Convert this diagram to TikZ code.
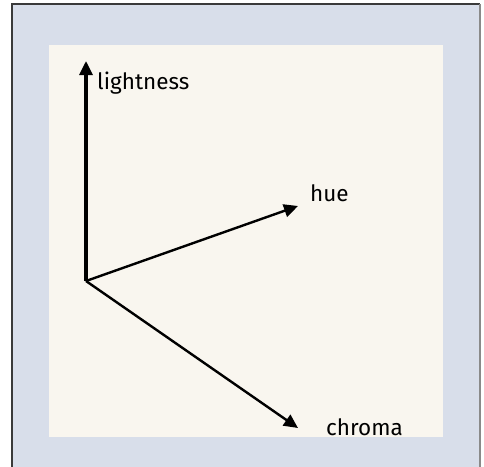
\documentclass[tikz,border=0pt]{standalone}
\usepackage{fontspec}
\setmainfont{Fira Sans}
\usetikzlibrary{arrows.meta}
\definecolor{panelblue}{HTML}{D8DEEA}
\definecolor{paper}{HTML}{F9F6EF}
\definecolor{edgedark}{HTML}{3A3A3A}
\definecolor{edgegray}{HTML}{8A8A8A}
\tikzset{
  axis/.style={line width=2.4pt,-{Triangle[length=14pt,width=13pt]}},
  axisup/.style={line width=3.2pt,-{Triangle[length=14pt,width=13pt]}},
  lbl/.style={font=\fontsize{22.5}{26}\selectfont,text=black,inner sep=0pt}
}
\begin{document}
\begin{tikzpicture}[x=1pt,y=-1pt]
\useasboundingbox (0,0) rectangle (484,466);
% outer panel and frame
\fill[panelblue] (12,4) rectangle (480,470);
\draw[edgedark,line width=1.5pt] (12,470) -- (12,4) -- (480,4);
\draw[edgegray,line width=1.5pt] (480,4) -- (480,470);
% inner sheet
\fill[paper] (49,45) rectangle (443,437);
% axes
\coordinate (o) at (86,281);
\coordinate (l) at (86,61);
\coordinate (h) at (298,206);
\coordinate (c) at (298,428);
\draw[axisup] (o) -- (l);
\draw[axis] (o) -- (h);
\draw[axis] (o) -- (c);
\node[lbl,anchor=west] (lt) at (97,83) {lightness};
\node[lbl,anchor=west] (ht) at (310,193) {hue};
\node[lbl,anchor=west] (ct) at (326,427) {chroma};
\end{tikzpicture}
\end{document}
